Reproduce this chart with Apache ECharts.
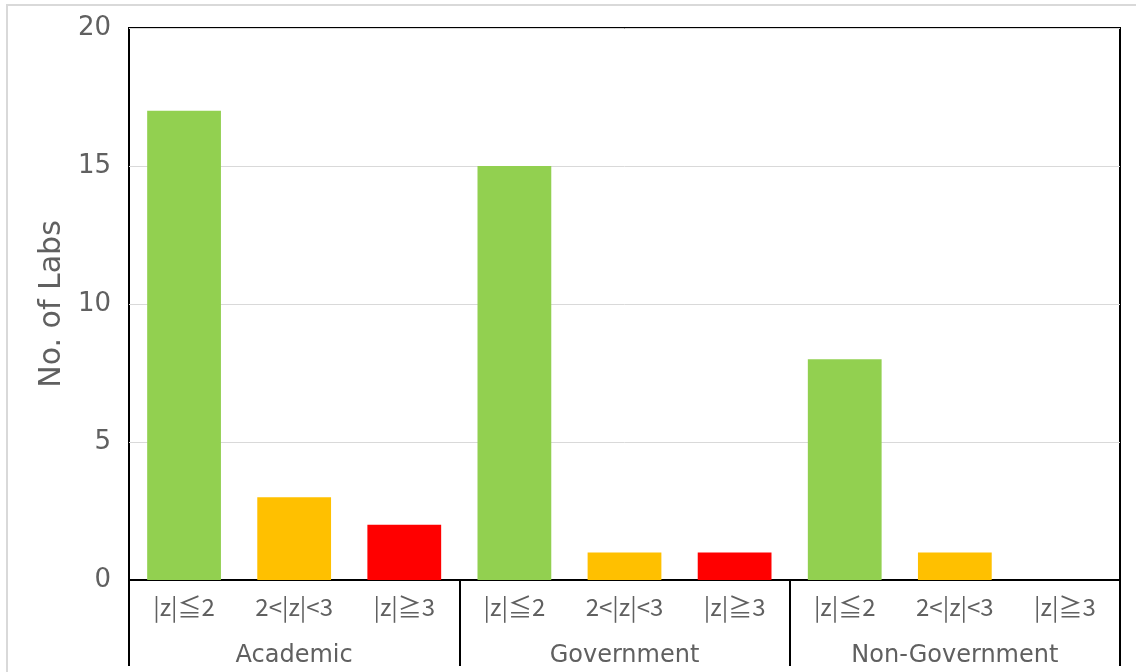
<!DOCTYPE html>
<html>
<head>
<meta charset="utf-8">
<script src="https://cdn.jsdelivr.net/npm/echarts@6/dist/echarts.min.js"></script>
<style>
html,body{margin:0;padding:0;background:#fff;}
#chart{width:1136px;height:672px;}
</style>
</head>
<body>
<div id="chart"></div>
<script>
const groups = ['Academic', 'Government', 'Non-Government'];
const bins = ['|z|≦2', '2<|z|<3', '|z|≧3'];
const binColors = ['#92d050', '#ffc000', '#ff0000'];
const academic = [17, 3, 2];
const government = [15, 1, 1];
const nonGovernment = [8, 1, 0];
const yTicks = [0, 5, 10, 15, 20];

const values = [academic, government, nonGovernment];
const categories = [];
const barData = [];
values.forEach((arr) => {
  arr.forEach((v, i) => {
    categories.push(bins[i]);
    barData.push({ value: v, itemStyle: { color: binColors[i] } });
  });
});

const wideFont = '"DejaVu Sans", "Noto Sans", sans-serif';
const cjkFont = '"Noto Sans CJK JP", "Noto Sans", sans-serif';
const textColor = '#606060';
const chart = echarts.init(document.getElementById('chart'), null, { renderer: 'canvas' });
chart.setOption({
  animation: false,
  backgroundColor: '#fff',
  textStyle: { fontFamily: wideFont },
  graphic: [{
    type: 'rect',
    shape: { x: 7, y: 5, width: 1150, height: 700 },
    style: { fill: 'none', stroke: '#d9d9d9', lineWidth: 2 },
    silent: true
  }],
  grid: {
    left: 129, right: 16, top: 28, bottom: 92,
    show: true, borderColor: '#000', borderWidth: 2, backgroundColor: 'transparent'
  },
  xAxis: [{
    type: 'category',
    data: categories,
    position: 'bottom',
    axisLine: { show: true, lineStyle: { color: '#000', width: 2 } },
    axisTick: { show: false },
    axisLabel: { color: textColor, fontSize: 24, margin: 15, fontFamily: cjkFont, interval: 0 }
  }, {
    type: 'category',
    data: groups,
    position: 'bottom',
    axisLine: { show: false },
    axisTick: { show: true, length: 86, alignWithLabel: false, interval: 0, lineStyle: { color: '#000', width: 2 } },
    axisLabel: { color: textColor, fontSize: 24, margin: 64, fontFamily: wideFont, interval: 0 }
  }],
  yAxis: {
    type: 'value',
    min: yTicks[0], max: yTicks[yTicks.length - 1], interval: 5,
    name: 'No. of Labs',
    nameLocation: 'middle',
    nameGap: 62,
    nameTextStyle: { color: textColor, fontSize: 30, fontFamily: wideFont },
    axisLine: { show: false },
    axisTick: { show: false },
    axisLabel: { color: textColor, fontSize: 26, margin: 18, fontFamily: wideFont },
    splitLine: { show: true, lineStyle: { color: '#d9d9d9', width: 1 } }
  },
  series: [{
    type: 'bar',
    data: barData,
    barWidth: '67%',
    xAxisIndex: 0
  }]
});
</script>
</body>
</html>
